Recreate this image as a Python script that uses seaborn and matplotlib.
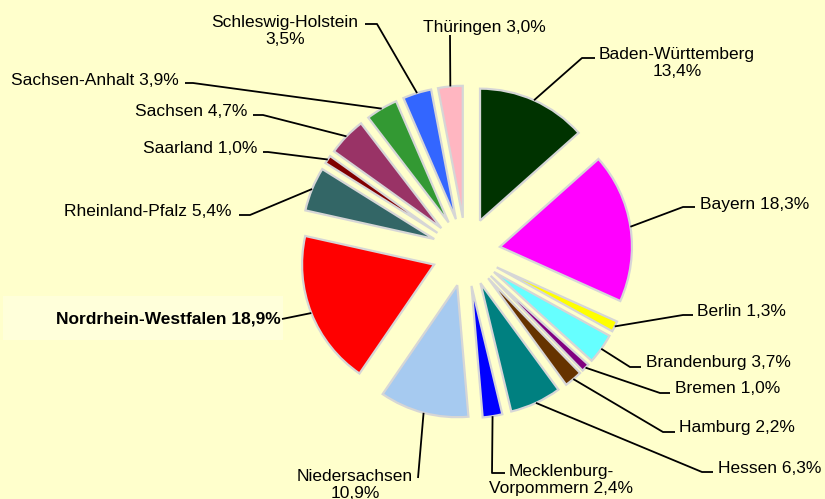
import numpy as np
import matplotlib
matplotlib.use("Agg")
import matplotlib.pyplot as plt
from matplotlib.patches import Rectangle
import seaborn as sns

# Share of each federal state (percent), clockwise from 12 o'clock
states = [
    "Baden-Württemberg", "Bayern", "Berlin", "Brandenburg", "Bremen",
    "Hamburg", "Hessen", "Mecklenburg-Vorpommern", "Niedersachsen",
    "Nordrhein-Westfalen", "Rheinland-Pfalz", "Saarland", "Sachsen",
    "Sachsen-Anhalt", "Schleswig-Holstein", "Thüringen",
]
shares = [13.4, 18.3, 1.3, 3.7, 1.0, 2.2, 6.3, 2.4, 10.9, 18.9, 5.4, 1.0,
          4.7, 3.9, 3.5, 3.0]
colors = ["#003300", "#FF00FF", "#FFFF00", "#66FFFF", "#800080", "#663300",
          "#008080", "#0000FF", "#A6CAF0", "#FF0000", "#336666", "#800000",
          "#993366", "#339933", "#3366FF", "#FFB6C1"]

# How the longer names are broken over two lines
name_breaks = {
    "Baden-Württemberg": "Baden-Württemberg\n",
    "Mecklenburg-Vorpommern": "Mecklenburg-\nVorpommern ",
    "Niedersachsen": "Niedersachsen\n",
    "Schleswig-Holstein": "Schleswig-Holstein\n",
}

W, H = 825, 499
CX, CY, R = 466, 252, 132      # pie centre and radius in pixels
BG = "#FFFFCC"

sns.set_theme(style="white")
plt.rcParams["font.family"] = ["Liberation Sans", "DejaVu Sans"]

fig = plt.figure(figsize=(W / 100, H / 100), dpi=100, facecolor=BG)
ax = fig.add_axes([0, 0, 1, 1])
ax.set_facecolor(BG)


def px(x, y):
    """Pixel position (origin top-left) -> data coordinates (radius = 1)."""
    return (x - CX) / R, (CY - y) / R


wedges, _ = ax.pie(
    shares, colors=colors, startangle=90, counterclock=False,
    explode=[0.26] * len(shares), radius=1.0, center=(0, 0),
    wedgeprops=dict(edgecolor="#D6D6D6", linewidth=1.6),
)

# label placement: text anchor (px), alignment, leader-line bend points (px)
layout = {
    "Baden-Württemberg": dict(xy=(677, 63), ha="center", va="center", path=[(582, 58), (595, 58)]),
    "Bayern": dict(xy=(700, 209), ha="left", va="baseline", path=[(683, 207), (695, 207)]),
    "Berlin": dict(xy=(697, 316), ha="left", va="baseline", path=[(683, 315), (693, 315)]),
    "Brandenburg": dict(xy=(646, 367), ha="left", va="baseline", path=[(630, 367), (641, 367)]),
    "Bremen": dict(xy=(675, 393), ha="left", va="baseline", path=[(660, 393), (670, 393)]),
    "Hamburg": dict(xy=(679, 432), ha="left", va="baseline", path=[(663, 432), (675, 432)]),
    "Hessen": dict(xy=(718, 473), ha="left", va="baseline", path=[(702, 472), (713, 472)]),
    "Mecklenburg-Vorpommern": dict(xy=(561, 480), ha="center", va="center", path=[(492, 473), (505, 473)]),
    "Niedersachsen": dict(xy=(355, 485), ha="center", va="center", path=[(418, 478)]),
    "Nordrhein-Westfalen": dict(xy=(281, 324), ha="right", va="baseline", path=[(282, 319)]),
    "Rheinland-Pfalz": dict(xy=(232, 216), ha="right", va="baseline", path=[(250, 215), (239, 215)]),
    "Saarland": dict(xy=(257, 153), ha="right", va="baseline", path=[(268, 152), (263, 152)]),
    "Sachsen": dict(xy=(247, 116), ha="right", va="baseline", path=[(263, 115), (253, 115)]),
    "Sachsen-Anhalt": dict(xy=(179, 85), ha="right", va="baseline", path=[(193, 83), (185, 83)]),
    "Schleswig-Holstein": dict(xy=(285, 31), ha="center", va="center", path=[(377, 24), (365, 24)]),
    "Thüringen": dict(xy=(423, 32), ha="left", va="baseline", path=[(450, 35)]),
}

# soft highlight box behind the largest state's label
bx0, by0 = px(3, 340)
bx1, by1 = px(283, 296)
ax.add_patch(Rectangle((bx0, by0), bx1 - bx0, by1 - by0, facecolor="#FFFFDA",
                       edgecolor="none", zorder=0))

for name, val, w in zip(states, shares, wedges):
    spec = layout[name]
    mid = np.deg2rad((w.theta1 + w.theta2) / 2)
    ax_, ay_ = w.center[0] + w.r * np.cos(mid), w.center[1] + w.r * np.sin(mid)
    pts = [(ax_, ay_)] + [px(*p) for p in spec["path"]]
    xs, ys = zip(*pts)
    ax.plot(xs, ys, color="black", lw=1.3, solid_capstyle="butt", zorder=3)

    pct = f"{val:.1f}%".replace(".", ",")
    text = name_breaks.get(name, name + " ") + pct
    bold = name == "Nordrhein-Westfalen"
    tx, ty = px(*spec["xy"])
    ax.text(tx, ty, text, ha=spec["ha"], va=spec["va"], multialignment="center",
            fontsize=12.5, fontweight="bold" if bold else "normal",
            color="black", zorder=4)

ax.set_xlim((0 - CX) / R, (W - CX) / R)
ax.set_ylim((CY - H) / R, CY / R)
ax.set_aspect("equal")
ax.axis("off")

fig.savefig("out.png", dpi=100, facecolor=BG)
